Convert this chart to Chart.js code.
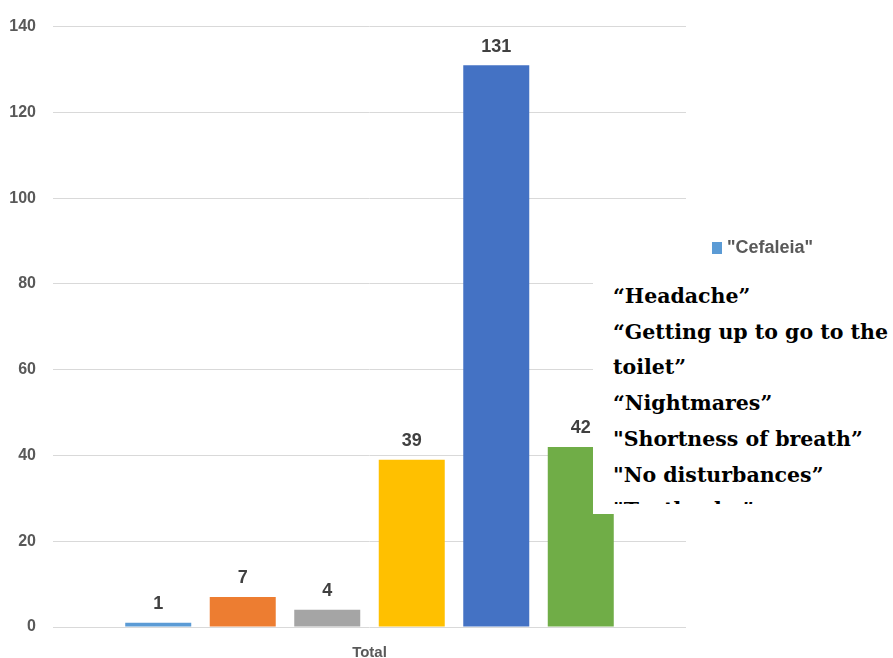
<!DOCTYPE html>
<html><head><meta charset="utf-8">
<script src="https://cdn.jsdelivr.net/npm/chart.js@4.4.0/dist/chart.umd.min.js"></script>
<style>
html,body{margin:0;padding:0;background:#fff;}
#wrap{position:relative;width:893px;height:658px;overflow:hidden;}
#note{position:absolute;left:593px;top:268px;width:300px;height:246px;background:#fff;}
#noteText{position:absolute;left:20px;top:11px;width:290px;height:225px;overflow:hidden;
  font-family:'DejaVu Serif',serif;font-weight:bold;font-size:20.5px;line-height:35.7px;color:#000;white-space:nowrap;}
</style>
</head><body>
<div id="wrap">
<canvas id="c" width="893" height="658"></canvas>
<div id="note"><div id="noteText">“Headache”<br>“Getting up to go to the<br>toilet”<br>“Nightmares”<br>"Shortness of breath”<br>"No disturbances”<br>"Toothache”</div></div>
</div>
<script>
const categories = ['Total'];
const seriesLabels = ['"Cefaleia"', 's2', 's3', 's4', 's5', 's6'];
const seriesValues = [1, 7, 4, 39, 131, 42];
const seriesColors = ['#5B9BD5', '#ED7D31', '#A5A5A5', '#FFC000', '#4472C4', '#70AD47'];
const yTicks = [0, 20, 40, 60, 80, 100, 120, 140];

const FONT = "'Liberation Sans',Arial,sans-serif";

const valueLabels = {
  id: 'valueLabels',
  afterDatasetsDraw(chart) {
    const ctx = chart.ctx;
    ctx.save();
    ctx.font = 'bold 18px ' + FONT;
    ctx.fillStyle = '#404040';
    ctx.textAlign = 'center';
    ctx.textBaseline = 'alphabetic';
    chart.data.datasets.forEach((ds, i) => {
      const meta = chart.getDatasetMeta(i);
      meta.data.forEach((el, j) => {
        ctx.fillText(String(ds.data[j]), el.x, el.y - 13.5);
      });
    });
    ctx.restore();
  }
};

const firstLegend = {
  id: 'firstLegend',
  afterDraw(chart) {
    const ctx = chart.ctx;
    const ds = chart.data.datasets[0];
    ctx.save();
    ctx.fillStyle = ds.backgroundColor;
    ctx.fillRect(712, 242, 10, 12);
    ctx.font = 'bold 18px ' + FONT;
    ctx.fillStyle = '#595959';
    ctx.textAlign = 'left';
    ctx.textBaseline = 'middle';
    ctx.fillText(ds.label, 727, 248);
    ctx.restore();
  }
};

new Chart(document.getElementById('c'), {
  type: 'bar',
  data: {
    labels: categories,
    datasets: seriesValues.map((v, i) => ({
      label: seriesLabels[i],
      data: [v],
      backgroundColor: seriesColors[i],
      borderWidth: 0,
      categoryPercentage: 0.801,
      barPercentage: 0.781
    }))
  },
  options: {
    responsive: false,
    animation: false,
    devicePixelRatio: 1,
    layout: { padding: { left: 0, right: 207, top: 26, bottom: 0 } },
    plugins: { legend: { display: false }, tooltip: { enabled: false } },
    scales: {
      x: {
        grid: { display: false },
        border: { display: false },
        ticks: { color: '#595959', font: { family: FONT, size: 15, weight: 'bold', lineHeight: 1 }, padding: 10 },
        afterFit(s) { s.height = 31; }
      },
      y: {
        min: 0, max: 140,
        afterBuildTicks(s) { s.ticks = yTicks.map(v => ({ value: v })); },
        grid: { color: '#D9D9D9', lineWidth: 1, drawTicks: false },
        border: { display: false },
        ticks: { color: '#595959', font: { family: FONT, size: 16, weight: 'bold' }, padding: 17 },
        afterFit(s) { s.width = 53; }
      }
    }
  },
  plugins: [valueLabels, firstLegend]
});
</script>
</body></html>
